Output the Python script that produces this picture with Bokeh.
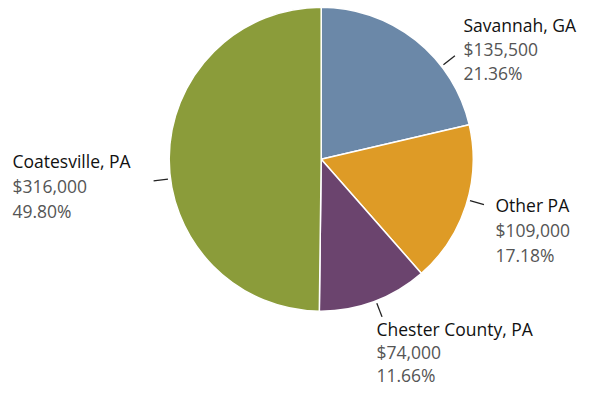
import math
from bokeh.plotting import figure
from bokeh.models import Range1d, ColumnDataSource
from bokeh.core.properties import value
from bokeh.embed import file_html
from bokeh.resources import INLINE

# ---- data ----
locations = ["Savannah, GA", "Other PA", "Chester County, PA", "Coatesville, PA"]
amounts = [135500, 109000, 74000, 316000]
colors = ["#6B88A8", "#DE9B26", "#6B446E", "#8B9C3A"]

total = sum(amounts)
shares = [a / total for a in amounts]

W, H = 579, 390
p = figure(width=W, height=H, output_backend="svg", toolbar_location=None,
           x_range=Range1d(0, W), y_range=Range1d(0, H), min_border=0)
p.axis.visible = False
p.grid.visible = False
p.outline_line_color = None
p.background_fill_color = "white"
p.border_fill_color = "white"

# layout (pixel-like coordinates, top-left origin)
def sx(x):
    return x
def sy(y):
    return H - y

cx, cy = sx(320.7), sy(158.7)
R = 152

start, end = [], []
cum = 0.0
for s in shares:
    a0 = math.pi / 2 - 2 * math.pi * (cum + s)
    a1 = math.pi / 2 - 2 * math.pi * cum
    start.append(a0)
    end.append(a1)
    cum += s

src = ColumnDataSource(dict(start=start, end=end, color=colors))
p.wedge(x=cx, y=cy, radius=R, start_angle="start", end_angle="end",
        fill_color="color", line_color="white", line_width=1.5, source=src)

# leader ticks (angles clockwise from 12 o'clock, degrees) - layout
leader_deg = [52.3, 105.6, 158.9, 262.6]
r_in, r_out = 154.5, 169
x0 = [cx + r_in * math.sin(math.radians(a)) for a in leader_deg]
y0 = [cy + r_in * math.cos(math.radians(a)) for a in leader_deg]
x1 = [cx + r_out * math.sin(math.radians(a)) for a in leader_deg]
y1 = [cy + r_out * math.cos(math.radians(a)) for a in leader_deg]
p.segment(x0=x0, y0=y0, x1=x1, y1=y1, line_color="#222222", line_width=1.3)

# label anchors (screen px: left x, first baseline, line step)
label_pos = [(463, 31, 24), (495, 211, 25), (376, 335, 23), (12, 167, 25)]
fs = "17.5px"
text_dy = 7  # compensation for rendered baseline offset

names_x, names_y, vals_x, vals_y, vals_t = [], [], [], [], []
for (lx, ly, lh), name, amt, sh in zip(label_pos, locations, amounts, shares):
    ly = ly - text_dy
    names_x.append(sx(lx)); names_y.append(sy(ly))
    vals_x += [sx(lx), sx(lx)]
    vals_y += [sy(ly + lh), sy(ly + 2 * lh)]
    vals_t += ["${:,}".format(amt), "{:.2f}%".format(sh * 100)]

p.text(x=names_x, y=names_y, text=locations, text_font=value("Open Sans"),
       text_font_size=fs, text_color="#111111", text_baseline="alphabetic",
       text_align="left")
p.text(x=vals_x, y=vals_y, text=vals_t, text_font=value("Open Sans"),
       text_font_size=fs, text_color="#555555", text_baseline="alphabetic",
       text_align="left")

open("out.html", "w").write(file_html(p, INLINE))
